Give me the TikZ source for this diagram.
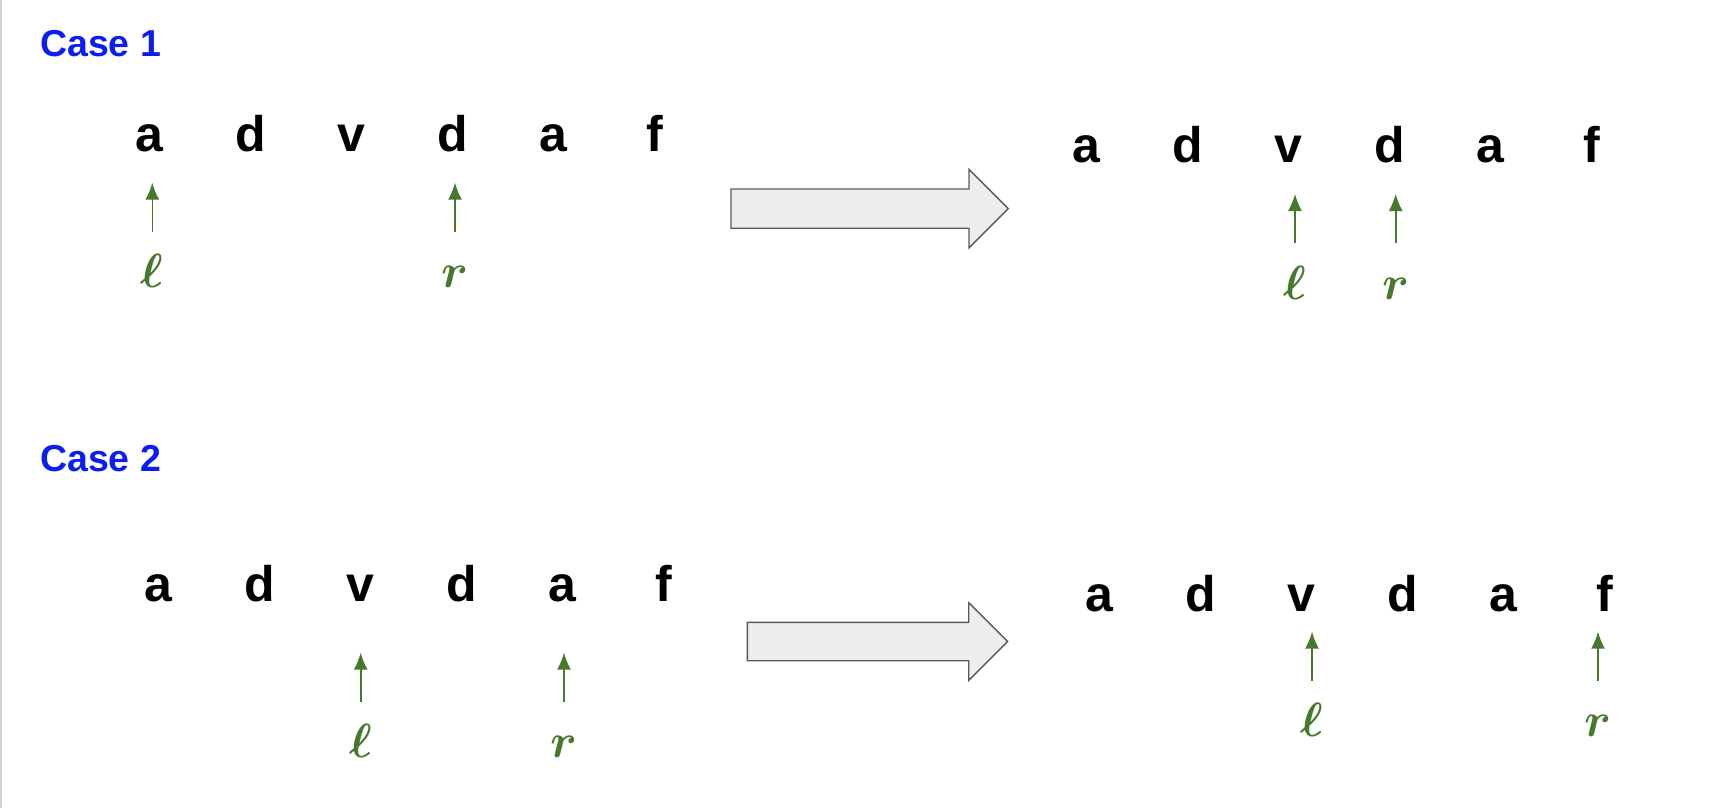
\RequirePackage{fix-cm}
\documentclass[tikz,border=0pt]{standalone}
\usepackage{fontspec}
\setmainfont{Liberation Sans}
\usetikzlibrary{positioning,arrows.meta}
\definecolor{caseblue}{RGB}{10,30,240}
\definecolor{ptrgreen}{RGB}{72,120,44}
\definecolor{boxgray}{RGB}{238,238,238}
\definecolor{edgegray}{RGB}{89,89,89}

\begin{document}
\begin{tikzpicture}[x=1pt, y=-1pt, node distance=101pt,
  letter/.style={font=\bfseries\fontsize{50}{60}\selectfont, text height=38pt, text depth=2pt, inner sep=0pt},
  casetitle/.style={font=\bfseries\fontsize{37.5}{45}\selectfont, text=caseblue, inner sep=0pt, anchor=base west},
  ptrlab/.style={font=\fontsize{48}{56}\selectfont\boldmath, text=ptrgreen, text height=36pt, text depth=0pt, inner sep=0pt},
  ptr/.style={-{Latex[length=17pt,width=14pt]}, line width=1.6pt, ptrgreen, shorten <=20pt},
  bigarrow/.style={fill=boxgray, draw=edgegray, line width=1.4pt, line join=miter}]
\useasboundingbox (0,0) rectangle (1718,808);
\draw[gray!35, line width=2pt] (1,0) -- (1,808);

% Case 1, before
\node[casetitle] (t1) at (40,56.5) {Case 1};
\node[letter, anchor=base] (a1) at (149.5,151) {a};
\node[letter, right of=a1] (d1) {d};
\node[letter, right of=d1] (v1) {v};
\node[letter, right of=v1] (dd1) {d};
\node[letter, right of=dd1] (aa1) {a};
\node[letter, right of=aa1] (f1) {f};
\coordinate (p1) at (152.3,182.7);
\coordinate (p2) at (455,182.7);
\node[ptrlab, below=69pt of p1] (l1) {$\ell$};
\node[ptrlab, below=69pt of p2] (r1) {$r$};
\draw[ptr] (l1) -- (p1);
\draw[ptr] (r1) -- (p2);

\draw[bigarrow] (731,189) -- (969,189) -- (969,169.3) -- (1008.3,208.6) -- (969,247.9) -- (969,228.2) -- (731,228.2) -- cycle;

% Case 1, after
\node[letter, anchor=base] (a3) at (1086.5,162.7) {a};
\node[letter, right of=a3] (d3) {d};
\node[letter, right of=d3] (v3) {v};
\node[letter, right of=v3] (dd3) {d};
\node[letter, right of=dd3] (aa3) {a};
\node[letter, right of=aa3] (f3) {f};
\coordinate (p3) at (1295,194);
\coordinate (p4) at (1395.7,194);
\node[ptrlab, below=69pt of p3] (l3) {$\ell$};
\node[ptrlab, below=69pt of p4] (r3) {$r$};
\draw[ptr] (l3) -- (p3);
\draw[ptr] (r3) -- (p4);

% Case 2, before
\node[casetitle] (t2) at (40,471) {Case 2};
\node[letter, anchor=base] (a2) at (158.5,601.7) {a};
\node[letter, right of=a2] (d2) {d};
\node[letter, right of=d2] (v2) {v};
\node[letter, right of=v2] (dd2) {d};
\node[letter, right of=dd2] (aa2) {a};
\node[letter, right of=aa2] (f2) {f};
\coordinate (p5) at (360.7,652.7);
\coordinate (p6) at (564,652.7);
\node[ptrlab, below=69pt of p5] (l2) {$\ell$};
\node[ptrlab, below=69pt of p6] (r2) {$r$};
\draw[ptr] (l2) -- (p5);
\draw[ptr] (r2) -- (p6);

\draw[bigarrow] (747.3,622.3) -- (968.7,622.3) -- (968.7,602.7) -- (1007.7,641.5) -- (968.7,680.3) -- (968.7,660.7) -- (747.3,660.7) -- cycle;

% Case 2, after
\node[letter, anchor=base] (a4) at (1099.5,611.7) {a};
\node[letter, right of=a4] (d4) {d};
\node[letter, right of=d4] (v4) {v};
\node[letter, right of=v4] (dd4) {d};
\node[letter, right of=dd4] (aa4) {a};
\node[letter, right of=aa4] (f4) {f};
\coordinate (p7) at (1312,631.7);
\coordinate (p8) at (1598,631.7);
\node[ptrlab, below=69pt of p7] (l4) {$\ell$};
\node[ptrlab, below=69pt of p8] (r4) {$r$};
\draw[ptr] (l4) -- (p7);
\draw[ptr] (r4) -- (p8);
\end{tikzpicture}
\end{document}
